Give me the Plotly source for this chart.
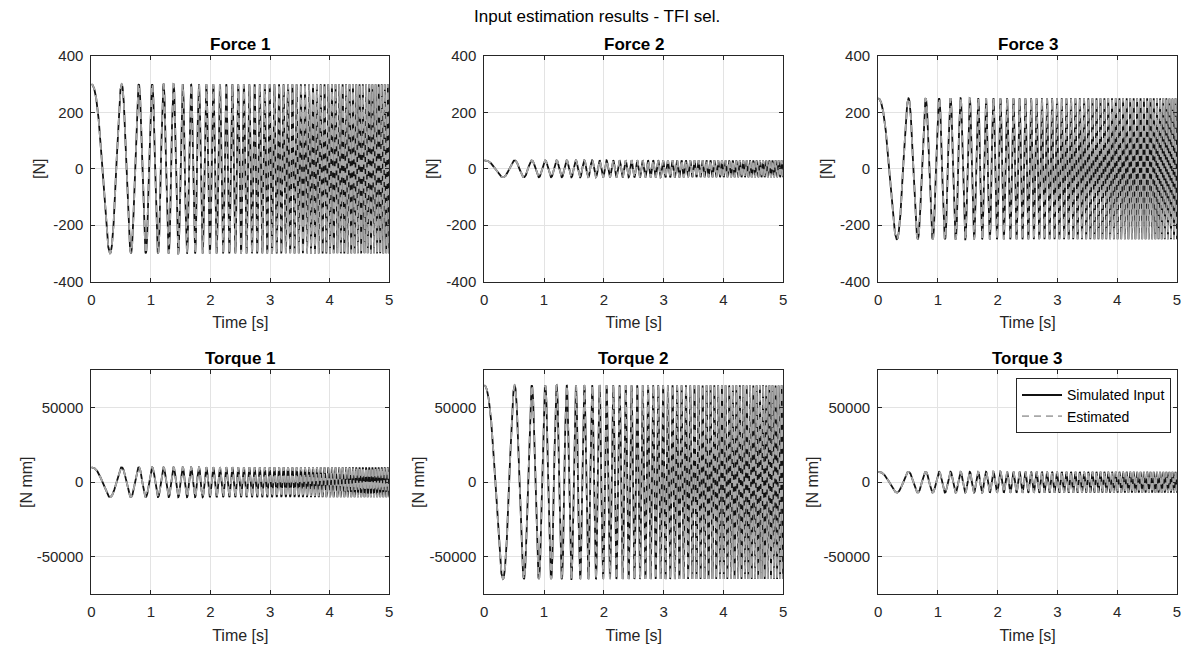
import numpy as np
import plotly.graph_objects as go

# ---- data ----
titles = ["Force 1", "Force 2", "Force 3", "Torque 1", "Torque 2", "Torque 3"]
y_labels = ["[N]", "[N]", "[N]", "[N mm]", "[N mm]", "[N mm]"]
amplitudes = [300, 30, 250, 10000, 65000, 7000]          # peak values of each chirp
chirp_f0_hz = [1.0, 1.0, 1.0, 1.0, 1.0, 1.0]             # start frequency (read from peak spacing)
chirp_f1_hz = [20.0, 20.0, 20.0, 20.0, 20.0, 20.0]       # end frequency at t = 5 s
t_end = 5.0
sample_step = 0.001
x_ticks = [0, 1, 2, 3, 4, 5]
force_ticks = [-400, -200, 0, 200, 400]
torque_ticks = [-50000, 0, 50000]
torque_tick_text = ["-50000", "0", "50000"]
force_range = [-400, 400]
torque_range = [-75000, 75000]
series_names = ["Simulated Input", "Estimated"]

t = np.arange(0, t_end + sample_step / 2, sample_step)

W, H = 1194, 649
# effective drawing area observed in the rendered page
OX, OY, AW, AH = 3.6, 7.9, 1186.4, 633.2


def fx(px):
    return (px - OX) / AW


def fy(py):
    return 1 - (py - OY) / AH


xdom_px = [(91, 389), (484, 783), (878, 1177)]
ydom_px = [(55, 281), (370, 594)]

fig = go.Figure()
font_family = "Liberation Sans, Arial, Helvetica, sans-serif"
axis_col = "#262626"
grid_col = "#e3e3e3"

annotations = []
for i in range(6):
    r, c = divmod(i, 3)
    ax_id = "" if i == 0 else str(i + 1)
    xd = [fx(xdom_px[c][0]), fx(xdom_px[c][1])]
    yd = [fy(ydom_px[r][1]), fy(ydom_px[r][0])]
    k = (chirp_f1_hz[i] - chirp_f0_hz[i]) / t_end
    y = amplitudes[i] * np.cos(2 * np.pi * (chirp_f0_hz[i] * t + 0.5 * k * t ** 2))
    show = (i == 5)
    fig.add_trace(go.Scatter(x=t, y=y, mode="lines", name=series_names[0],
                             line=dict(color="#111111", width=1.8),
                             xaxis="x" + ax_id, yaxis="y" + ax_id, showlegend=show))
    fig.add_trace(go.Scatter(x=t, y=y, mode="lines", name=series_names[1],
                             line=dict(color="#a8a8a8", width=1.8, dash="7px,5px"),
                             xaxis="x" + ax_id, yaxis="y" + ax_id, showlegend=show))
    common = dict(showline=True, linecolor=axis_col, linewidth=1, mirror="ticks",
                  ticks="inside", ticklen=4, tickcolor=axis_col,
                  showgrid=True, gridcolor=grid_col, gridwidth=1, zeroline=False,
                  tickfont=dict(family=font_family, size=15, color=axis_col))
    fig.layout["xaxis" + ax_id] = dict(domain=xd, range=[0, t_end], tickvals=x_ticks,
                                       anchor="y" + ax_id, ticklabelstandoff=4,
                                       title=dict(text="Time [s]", standoff=10,
                                                  font=dict(family=font_family, size=16, color=axis_col)),
                                       **common)
    fig.layout["yaxis" + ax_id] = dict(domain=yd, anchor="x" + ax_id, ticklabelstandoff=4,
                                       range=force_range if r == 0 else torque_range,
                                       tickvals=force_ticks if r == 0 else torque_ticks,
                                       ticktext=[str(v) for v in force_ticks] if r == 0 else torque_tick_text,
                                       title=dict(text=y_labels[i], standoff=3 if r == 0 else 0,
                                                  font=dict(family=font_family, size=16, color=axis_col)),
                                       **common)
    annotations.append(dict(text="<b>" + titles[i] + "</b>", x=(xd[0] + xd[1]) / 2, y=yd[1],
                            xref="paper", yref="paper", xanchor="center", yanchor="bottom",
                            yshift=0, showarrow=False,
                            font=dict(family=font_family, size=17, color="black")))

annotations.append(dict(text="Input estimation results - TFI sel.", x=fx(597), y=fy(4),
                        xref="paper", yref="paper", xanchor="center", yanchor="top",
                        showarrow=False, font=dict(family=font_family, size=17, color="black")))

fig.update_layout(
    width=W, height=H, autosize=False,
    margin=dict(l=0, r=0, t=0, b=0, pad=0),
    paper_bgcolor="white", plot_bgcolor="white",
    annotations=annotations,
    legend=dict(x=fx(1171), y=fy(378), xanchor="right", yanchor="top",
                bgcolor="white", bordercolor=axis_col, borderwidth=1,
                font=dict(family=font_family, size=14, color="black"),
                itemwidth=40, tracegroupgap=0),
    showlegend=True,
)

fig.write_html("out.html")
